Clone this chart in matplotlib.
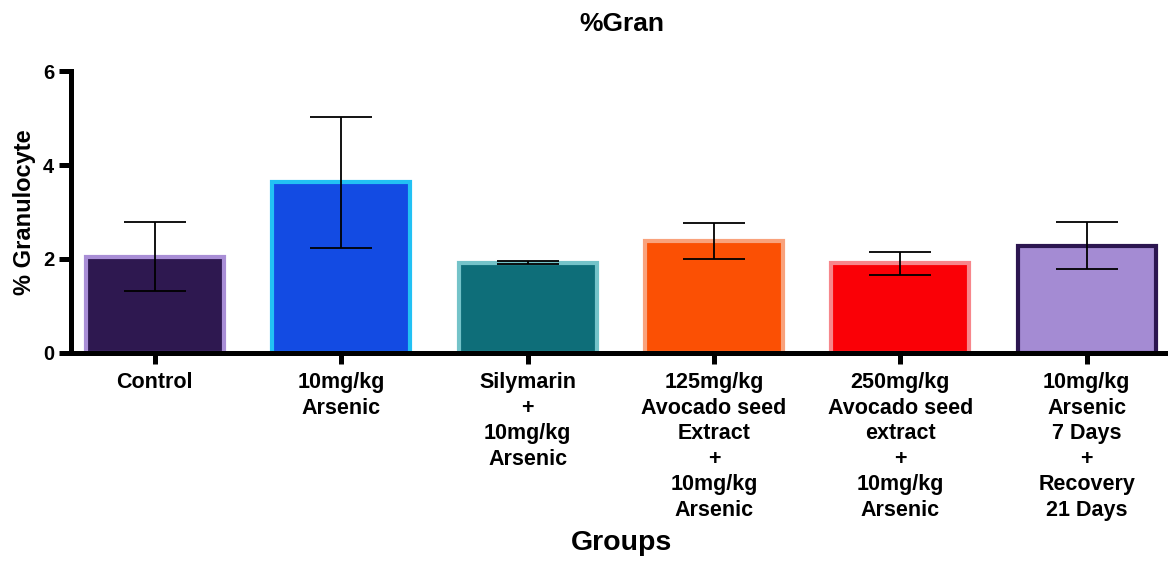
import matplotlib
matplotlib.use("Agg")
import matplotlib.pyplot as plt
import numpy as np

groups = ["Control",
          "10mg/kg\nArsenic",
          "Silymarin\n+\n10mg/kg\nArsenic",
          "125mg/kg\nAvocado seed\nExtract\n+\n10mg/kg\nArsenic",
          "250mg/kg\nAvocado seed\nextract\n+\n10mg/kg\nArsenic",
          "10mg/kg\nArsenic\n7 Days\n+\nRecovery\n21 Days"]
means = [2.05, 3.63, 1.92, 2.38, 1.91, 2.28]
errors = [0.73, 1.40, 0.035, 0.39, 0.24, 0.50]
fill_colors = ["#2E1850", "#134BE3", "#0E6E79", "#FB5004", "#FA0006", "#A48BD3"]
edge_colors = ["#A98ED6", "#22C1F4", "#74C3C9", "#F9A27C", "#F7868B", "#2C1650"]
yticks = [0, 2, 4, 6]

plt.rcParams['font.family'] = ['Liberation Sans', 'DejaVu Sans']
plt.rcParams['font.weight'] = 'bold'

fig = plt.figure(figsize=(11.69, 5.61), dpi=100)
ax = fig.add_axes([0.0607, 0.3708, 0.9359, 0.5026])

x = np.arange(len(groups))
ax.bar(x, means, width=0.74, color=fill_colors, edgecolor=edge_colors,
       linewidth=3.0, zorder=2)
ax.errorbar(x, means, yerr=errors, fmt='none', ecolor='black',
            elinewidth=1.3, capsize=22, capthick=1.3, zorder=3)

ax.set_xlim(-0.45, 5.42)
ax.set_ylim(0, 6)
ax.set_yticks(yticks)
ax.set_yticklabels([str(v) for v in yticks], fontsize=14.5, fontweight='bold')
ax.set_xticks(x)
ax.set_xticklabels(groups, fontsize=15.5, fontweight='bold', linespacing=1.28,
                   va='top', ha='center')

for s in ['top', 'right']:
    ax.spines[s].set_visible(False)
for s in ['left', 'bottom']:
    ax.spines[s].set_linewidth(3.6)
    ax.spines[s].set_capstyle('projecting')
ax.tick_params(axis='y', length=9, width=3.6, pad=3)
ax.tick_params(axis='x', length=8, width=3.6, pad=6)

ax.set_ylabel("% Granulocyte", fontsize=17, fontweight='bold', labelpad=5)
fig.text(0.532, 0.032, "Groups", fontsize=20.5, fontweight='bold', ha='center', va='center')
fig.text(0.532, 0.958, "%Gran", fontsize=19, fontweight='bold', ha='center', va='center')

fig.savefig("out.png", dpi=100)
